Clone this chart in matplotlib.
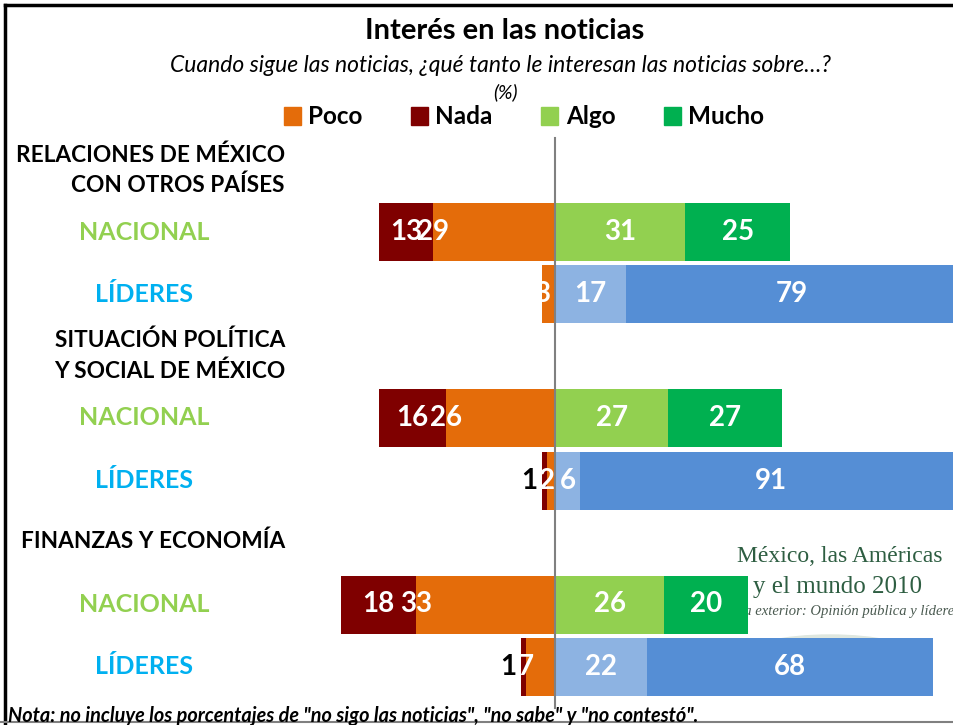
import matplotlib
matplotlib.use('Agg')
import matplotlib.pyplot as plt
from matplotlib.lines import Line2D
from matplotlib.patches import Patch, Ellipse

plt.rcParams['font.family'] = ['Lato', 'DejaVu Sans']

# data (%), one entry per bar row, top to bottom
groups = ['RELACIONES DE MÉXICO\nCON OTROS PAÍSES',
          'SITUACIÓN POLÍTICA\nY SOCIAL DE MÉXICO',
          'FINANZAS Y ECONOMÍA']
rows = ['NACIONAL', 'LÍDERES', 'NACIONAL', 'LÍDERES', 'NACIONAL', 'LÍDERES']
nada = [13, 0, 16, 1, 18, 1]
poco = [29, 3, 26, 2, 33, 7]
algo = [31, 17, 27, 6, 26, 22]
mucho = [25, 79, 27, 91, 20, 68]

# layout (pixel rows of the 954x725 picture)
W, H = 954, 725
row_y = [232, 294, 418, 480.5, 604.5, 667]
group_y = [(155, 185), (340, 371), (541,)]
bar_h = 58
px_per_unit = 4.2
center_px = 555

c_poco = '#E46C0A'
c_nada = '#7F0000'
c_algo = {'NACIONAL': '#92D050', 'LÍDERES': '#8DB3E2'}
c_mucho = {'NACIONAL': '#00B050', 'LÍDERES': '#558ED5'}
c_row = {'NACIONAL': '#92D050', 'LÍDERES': '#00B0F0'}


def fx(x):
    return x / W


def fy(y):
    return 1 - y / H


fig = plt.figure(figsize=(9.54, 7.25), dpi=100)
ax = fig.add_axes([0, 0, 1, 1])
ax.set_xlim(-center_px / px_per_unit, (W - center_px) / px_per_unit)
ax.set_ylim(H, 0)
ax.axis('off')

# faint logo in the background
ax.text(fx(840), fy(557), 'México, las Américas', transform=ax.transAxes,
        ha='center', va='center', fontsize=17, family='Liberation Serif',
        color='#2E5E42', zorder=1)
ax.text(fx(838), fy(587), 'y el mundo 2010', transform=ax.transAxes,
        ha='center', va='center', fontsize=18, family='Liberation Serif',
        color='#2E5E42', zorder=1)
ax.text(fx(960), fy(612), 'Política exterior: Opinión pública y líderes',
        transform=ax.transAxes, ha='right', va='center', fontsize=10.5,
        family='Liberation Serif', style='italic', color='#4A5A50', zorder=1)
ax.add_patch(Ellipse((fx(830), fy(655)), fx(170), 40 / H, transform=ax.transAxes,
                     color='#DFE7DF', zorder=1))

for i, r in enumerate(rows):
    y = row_y[i]
    ax.barh(y, -poco[i], height=bar_h, color=c_poco, zorder=3)
    ax.barh(y, -nada[i], left=-poco[i], height=bar_h, color=c_nada, zorder=3)
    ax.barh(y, algo[i], height=bar_h, color=c_algo[r], zorder=3)
    ax.barh(y, mucho[i], left=algo[i], height=bar_h, color=c_mucho[r], zorder=3)

    kw = dict(ha='center', va='center', fontsize=20, fontweight='bold', zorder=5)
    if nada[i] > 0:
        if r == 'NACIONAL':
            ax.text(-(poco[i] + nada[i] / 2), y, str(nada[i]), color='white', **kw)
        else:
            ax.text(-(poco[i] + nada[i]) - 3.2, y, str(nada[i]), color='black', **kw)
    ax.text(-poco[i], y, str(poco[i]), color='white', **kw)
    ax.text(algo[i] / 2, y, str(algo[i]), color='white', **kw)
    ax.text(algo[i] + mucho[i] / 2, y, str(mucho[i]), color='white', **kw)

    fig.text(fx(144), fy(y), r, ha='center', va='center', fontsize=18,
             fontweight='bold', color=c_row[r])

ax.plot([0, 0], [138, 708], color='#808080', lw=1.5, zorder=4)

for g, ys in zip(groups, group_y):
    for line, yy in zip(g.split('\n'), ys):
        fig.text(fx(285), fy(yy), line, ha='right', va='center', fontsize=16.3,
                 fontweight='bold', color='black')

fig.text(fx(505), fy(31), 'Interés en las noticias', ha='center', va='center',
         fontsize=21, fontweight='bold')
fig.text(fx(501), fy(65),
         'Cuando sigue las noticias, ¿qué tanto le interesan las noticias sobre…?',
         ha='center', va='center', fontsize=16.5, style='italic')
fig.text(fx(505), fy(92), '(%)', ha='center', va='center', fontsize=14, style='italic')

handles = [Patch(color=c_poco), Patch(color=c_nada),
           Patch(color=c_algo['NACIONAL']), Patch(color=c_mucho['NACIONAL'])]
fig.legend(handles, ['Poco', 'Nada', 'Algo', 'Mucho'], ncol=4, loc='center',
           bbox_to_anchor=(fx(524), fy(117)), frameon=False, handlelength=0.7,
           handleheight=0.7, handletextpad=0.3, columnspacing=2.0,
           prop={'size': 17.5, 'weight': 'bold'})

fig.text(fx(8), fy(716),
         'Nota: no incluye los porcentajes de "no sigo las noticias", "no sabe" y "no contestó".',
         ha='left', va='center', fontsize=14.3, style='italic', fontweight='bold')

# frame
fig.add_artist(Line2D([fx(5), fx(5)], [0, fy(5)], color='black', lw=2.5,
                      transform=fig.transFigure))
fig.add_artist(Line2D([fx(5), 1], [fy(5), fy(5)], color='black', lw=2.5,
                      transform=fig.transFigure))
fig.add_artist(Line2D([0, 1], [fy(722), fy(722)], color='#808080', lw=1.5,
                      transform=fig.transFigure))

fig.savefig('out.png', dpi=100)
